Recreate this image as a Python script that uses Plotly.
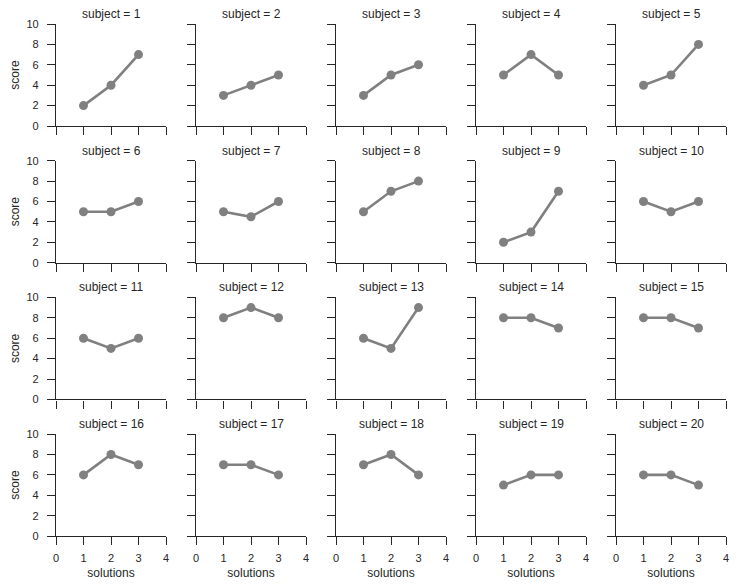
import plotly.graph_objects as go
from plotly.subplots import make_subplots

solutions = [1, 2, 3]
subjects = list(range(1, 21))
scores = {
    1: [2, 4, 7], 2: [3, 4, 5], 3: [3, 5, 6], 4: [5, 7, 5], 5: [4, 5, 8],
    6: [5, 5, 6], 7: [5, 4.5, 6], 8: [5, 7, 8], 9: [2, 3, 7], 10: [6, 5, 6],
    11: [6, 5, 6], 12: [8, 9, 8], 13: [6, 5, 9], 14: [8, 8, 7], 15: [8, 8, 7],
    16: [6, 8, 7], 17: [7, 7, 6], 18: [7, 8, 6], 19: [5, 6, 6], 20: [6, 6, 5],
}
x_ticks = [0, 1, 2, 3, 4]
y_ticks = [0, 2, 4, 6, 8, 10]

# page body has an 8px margin, so the figure is drawn 8px in from the window edge
OFF = 8
W, H = 740 - 2 * OFF, 588 - 2 * OFF
nrows, ncols = 4, 5
fig = make_subplots(rows=nrows, cols=ncols)

ink = "#262626"
fam = "Liberation Sans, Arial, sans-serif"
tick_font = dict(family=fam, size=11, color=ink)
label_font = dict(family=fam, size=12, color=ink)
annotations = []

for idx, s in enumerate(subjects):
    r, c = idx // ncols, idx % ncols
    fig.add_trace(go.Scatter(x=solutions, y=scores[s], mode="lines+markers",
                             line=dict(color="#808080", width=2.6),
                             marker=dict(color="#808080", size=9),
                             showlegend=False, hoverinfo="x+y"),
                  row=r + 1, col=c + 1)
    n = idx + 1
    xa = "xaxis" if n == 1 else f"xaxis{n}"
    ya = "yaxis" if n == 1 else f"yaxis{n}"
    left = 56 + 140 * c - OFF
    right = left + 110
    top = 24 + 136.7 * r - OFF
    bot = top + 102
    xd = [left / W, right / W]
    yd = [1 - bot / H, 1 - top / H]
    fig.layout[xa].update(domain=xd, range=[0, 4], tickvals=x_ticks,
                          showline=True, linecolor=ink, linewidth=1.3,
                          ticks="outside", ticklen=8, tickwidth=1.2, tickcolor=ink,
                          ticklabelstandoff=4,
                          showgrid=False, zeroline=False, automargin=False,
                          showticklabels=(r == nrows - 1), tickfont=tick_font)
    fig.layout[ya].update(domain=yd, range=[0, 10], tickvals=y_ticks,
                          showline=True, linecolor=ink, linewidth=1.3,
                          ticks="outside", ticklen=8, tickwidth=1.2, tickcolor=ink,
                          ticklabelstandoff=6,
                          showgrid=False, zeroline=False, automargin=False,
                          showticklabels=(c == 0), tickfont=tick_font)
    if r == nrows - 1:
        fig.layout[xa].title = dict(text="solutions", font=label_font, standoff=6)
    if c == 0:
        fig.layout[ya].title = dict(text="score", font=label_font, standoff=6)
    annotations.append(dict(text=f"subject = {s}", x=(xd[0] + xd[1]) / 2,
                            y=yd[1], xref="paper", yref="paper",
                            xanchor="center", yanchor="middle", yshift=10,
                            showarrow=False, font=label_font))

fig.update_layout(width=W, height=H, margin=dict(l=0, r=0, t=0, b=0),
                  plot_bgcolor="white", paper_bgcolor="white",
                  annotations=annotations, font=tick_font)
fig.write_html("out.html")
